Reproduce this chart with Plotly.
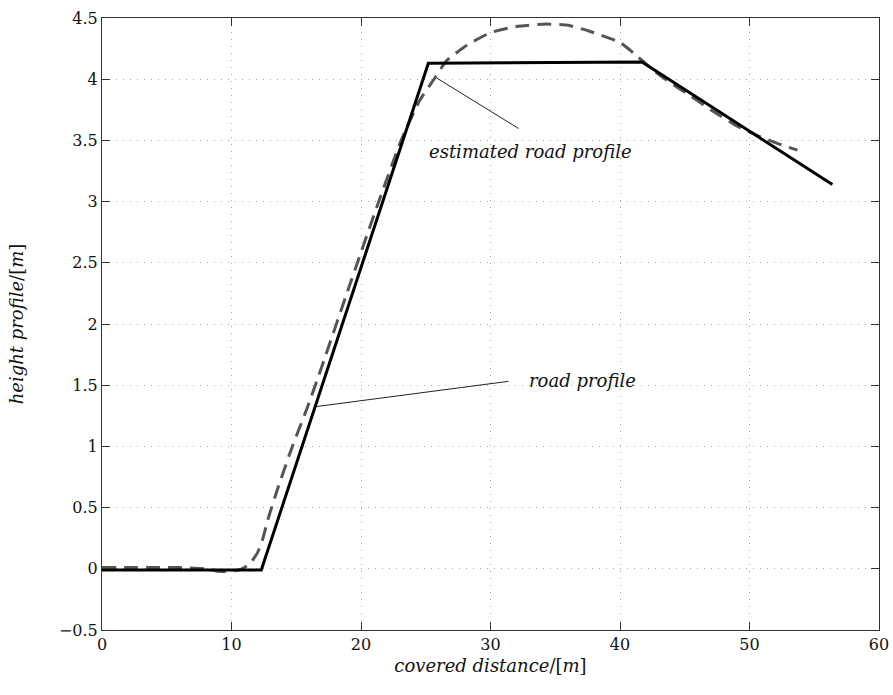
import plotly.graph_objects as go

# Road profile (piecewise linear) and its estimate
road_x = [0.0, 12.3, 25.2, 41.7, 56.4]
road_y = [-0.01, -0.01, 4.13, 4.14, 3.14]

est_x = [0, 2, 4, 6, 8, 9, 10, 10.8, 11.4, 12.0, 12.4, 12.8, 13.55, 14.7, 15.9,
         17.0, 19.1, 21.2, 23.1, 24.5, 25.7, 26.6, 28.2, 30.0, 32.0, 34.3, 36.0,
         37.7, 40.0, 41.3, 42.5, 43.9, 45.5, 47.0, 49.0, 50.8, 52.3, 53.7]
est_y = [0.01, 0.01, 0.01, 0.01, 0.0, -0.02, -0.02, 0.0, 0.04, 0.13, 0.24, 0.40,
         0.65, 1.00, 1.33, 1.66, 2.31, 2.95, 3.50, 3.82, 4.01, 4.15, 4.28, 4.38,
         4.43, 4.45, 4.44, 4.39, 4.30, 4.19, 4.08, 3.97, 3.86, 3.75, 3.62, 3.53,
         3.47, 3.42]

x_ticks = [0, 10, 20, 30, 40, 50, 60]
y_ticks = [-0.5, 0, 0.5, 1, 1.5, 2, 2.5, 3, 3.5, 4, 4.5]

# Callout labels: (text, label position, leader start, leader end)
est_label = "estimated road profile"
est_label_pos = (33.1, 3.41)
est_leader = ((32.28, 3.59), (25.84, 4.01))
road_label = "road profile"
road_label_pos = (37.1, 1.54)
road_leader = ((31.5, 1.533), (16.44, 1.324))

SERIF = "DejaVu Serif"
TEXT_COLOR = "#111111"

fig = go.Figure()
fig.add_trace(go.Scatter(x=est_x, y=est_y, mode="lines", line_shape="spline",
                         line=dict(color="#555555", width=3, dash="14px,8px",
                                   smoothing=0.5),
                         showlegend=False, hoverinfo="skip"))
fig.add_trace(go.Scatter(x=road_x, y=road_y, mode="lines",
                         line=dict(color="black", width=3),
                         showlegend=False, hoverinfo="skip"))

for (start, end) in (est_leader, road_leader):
    fig.add_annotation(x=end[0], y=end[1], ax=start[0], ay=start[1],
                       xref="x", yref="y", axref="x", ayref="y",
                       text="", showarrow=True, arrowhead=0,
                       arrowwidth=1, arrowcolor="#222222")

for text, pos in ((est_label, est_label_pos), (road_label, road_label_pos)):
    fig.add_annotation(x=pos[0], y=pos[1], xref="x", yref="y", text=f"<i>{text}</i>",
                       showarrow=False, font=dict(family=SERIF, size=18, color=TEXT_COLOR))

axis_common = dict(
    showline=True, linecolor="#333333", linewidth=1, mirror="ticks",
    ticks="inside", ticklen=8, tickcolor="#333333", tickwidth=1,
    showgrid=True, gridcolor="#a8a8a8", griddash="1px,6px", gridwidth=1,
    zeroline=False, automargin=False,
    tickfont=dict(family=SERIF, size=16, color=TEXT_COLOR),
)

fig.update_xaxes(range=[0, 60], tickvals=x_ticks,
                 title=dict(text="<i>covered distance</i>/[<i>m</i>]",
                            font=dict(family=SERIF, size=18, color=TEXT_COLOR), standoff=6),
                 **axis_common)
fig.update_yaxes(range=[-0.5, 4.5], tickvals=y_ticks,
                 title=dict(text="<i>height profile</i>/[<i>m</i>]",
                            font=dict(family=SERIF, size=18, color=TEXT_COLOR), standoff=30),
                 **axis_common)

fig.update_layout(width=893, height=695, plot_bgcolor="white", paper_bgcolor="white",
                  margin=dict(l=102, r=14, t=18, b=65))

fig.write_html("out.html")
